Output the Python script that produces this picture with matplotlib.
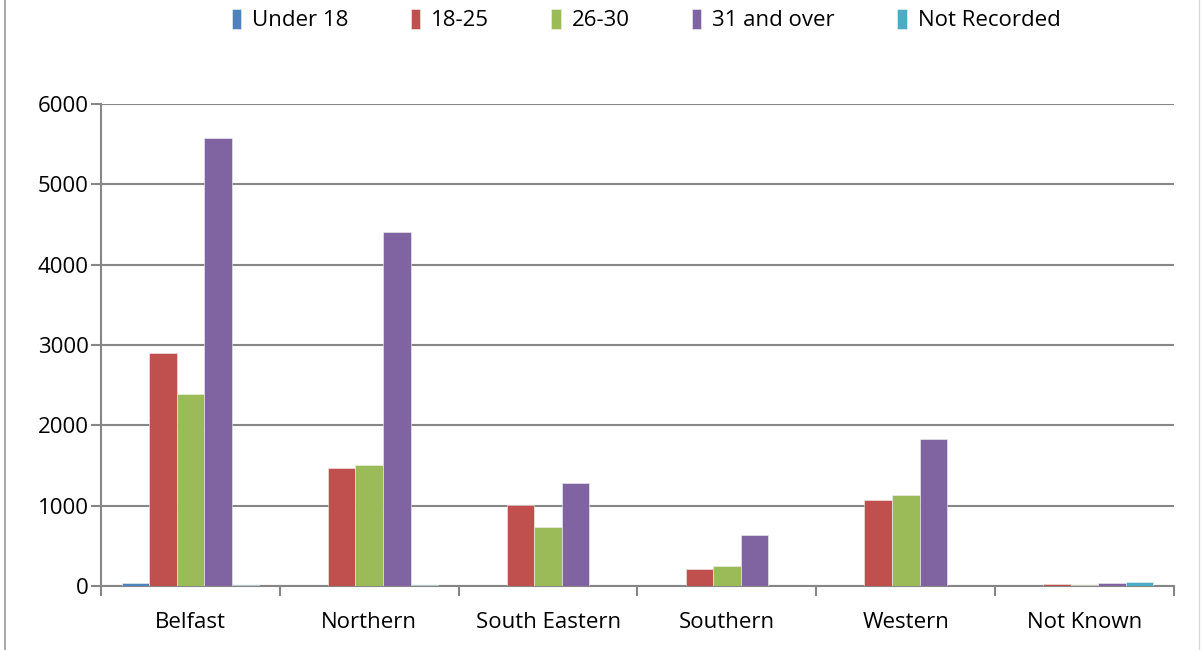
import numpy as np
import matplotlib.pyplot as plt
from matplotlib.lines import Line2D

# Data
regions = ["Belfast", "Northern", "South Eastern", "Southern", "Western", "Not Known"]
age_groups = ["Under 18", "18-25", "26-30", "31 and over", "Not Recorded"]
under_18 = [38, 6, 6, 4, 6, 0]
age_18_25 = [2900, 1470, 1005, 210, 1070, 30]
age_26_30 = [2385, 1510, 738, 250, 1130, 15]
age_31_over = [5580, 4405, 1278, 633, 1826, 38]
not_recorded = [12, 10, 2, 1, 4, 52]

series = [under_18, age_18_25, age_26_30, age_31_over, not_recorded]
colors = ["#4F81BD", "#C0504D", "#9BBB59", "#8064A2", "#4BACC6"]

plt.rcParams['font.family'] = ['Open Sans', 'DejaVu Sans']

fig = plt.figure(figsize=(12.03, 6.5), dpi=100)
ax = fig.add_axes([101 / 1203, 1 - 586 / 650, 1073 / 1203, 482 / 650])

# outer chart border (top and bottom run off the picture)
fig.add_artist(Line2D([5 / 1203, 5 / 1203], [0, 1], transform=fig.transFigure,
                      color="#9a9a9a", lw=1.2))
fig.add_artist(Line2D([1199 / 1203, 1199 / 1203], [0, 1], transform=fig.transFigure,
                      color="#d9d9d9", lw=1.0))

x = np.arange(len(regions))
w = 0.154
for i, (vals, c, lab) in enumerate(zip(series, colors, age_groups)):
    ax.bar(x + (i - 2) * w, vals, w, color=c, label=lab,
           edgecolor="#f2f2f2", linewidth=0.4, zorder=3)

ax.set_xlim(-0.5, len(regions) - 0.5)
ax.set_ylim(0, 6000)
ax.set_yticks(np.arange(0, 6001, 1000))
ax.yaxis.grid(True, color="#868686", lw=1.5, zorder=0)
ax.set_axisbelow(True)

ax.set_xticks(x)
ax.set_xticklabels(regions, fontsize=16)
ax.set_xticks(np.arange(-0.5, len(regions)), minor=True)
ax.tick_params(axis="x", which="major", length=0, pad=19)
ax.tick_params(axis="x", which="minor", length=7, width=1.5, color="#868686")
ax.tick_params(axis="y", length=7, width=1.5, color="#868686", labelsize=16, pad=2)

for s in ["top", "right"]:
    ax.spines[s].set_visible(False)
for s in ["left", "bottom"]:
    ax.spines[s].set_color("#868686")
    ax.spines[s].set_linewidth(1.5)

ax.legend(loc="center", bbox_to_anchor=(0.508, 1.174), ncol=5, frameon=False,
          fontsize=16, handlelength=0.42, handleheight=1.0, handletextpad=0.5,
          columnspacing=2.8)

fig.savefig("out.png", dpi=100)
